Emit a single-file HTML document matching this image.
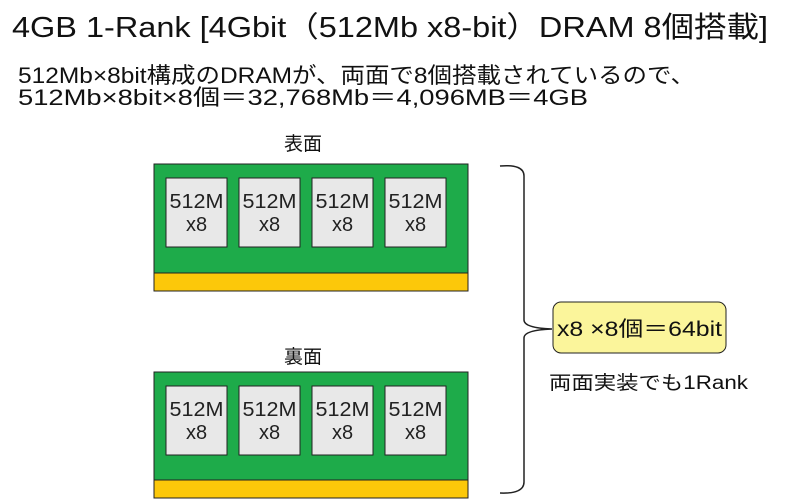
<!DOCTYPE html>
<html><head><meta charset="utf-8"><style>
body{margin:0;background:#fff;}
svg{display:block;font-family:"Liberation Sans","Noto Sans CJK JP",sans-serif;}
</style></head><body>
<svg width="800" height="501" viewBox="0 0 800 501">
<rect width="800" height="501" fill="#fff"/>
<text x="12" y="37" font-size="29" textLength="756" lengthAdjust="spacingAndGlyphs" fill="#111">4GB 1-Rank [4Gbit（512Mb x8-bit）DRAM 8個搭載]</text>
<text x="18" y="83" font-size="22" textLength="677" lengthAdjust="spacingAndGlyphs" fill="#111">512Mb×8bit構成のDRAMが、両面で8個搭載されているので、</text>
<text x="18" y="105" font-size="22" textLength="570" lengthAdjust="spacingAndGlyphs" fill="#111">512Mb×8bit×8個＝32,768Mb＝4,096MB＝4GB</text>
<text x="284" y="150" font-size="19" fill="#111">表面</text>
<text x="284" y="363" font-size="19" fill="#111">裏面</text>
<g stroke="#222" stroke-width="1">
<rect x="154" y="164" width="314" height="109" fill="#1eab4a"/>
<rect x="154" y="273" width="314" height="18" fill="#fcc80a"/>
<rect x="154" y="372" width="314" height="108" fill="#1eab4a"/>
<rect x="154" y="480" width="314" height="18" fill="#fcc80a"/>
<g fill="#e8e8e8">
<rect x="166" y="178" width="61" height="69"/><rect x="239" y="178" width="61" height="69"/>
<rect x="312" y="178" width="61" height="69"/><rect x="385" y="178" width="61" height="69"/>
<rect x="166" y="386" width="61" height="69"/><rect x="239" y="386" width="61" height="69"/>
<rect x="312" y="386" width="61" height="69"/><rect x="385" y="386" width="61" height="69"/>
</g></g>
<g font-size="20" fill="#222" text-anchor="middle">
<text x="196.5" y="208" textLength="54" lengthAdjust="spacingAndGlyphs">512M</text><text x="196.5" y="231">x8</text>
<text x="269.5" y="208" textLength="54" lengthAdjust="spacingAndGlyphs">512M</text><text x="269.5" y="231">x8</text>
<text x="342.5" y="208" textLength="54" lengthAdjust="spacingAndGlyphs">512M</text><text x="342.5" y="231">x8</text>
<text x="415.5" y="208" textLength="54" lengthAdjust="spacingAndGlyphs">512M</text><text x="415.5" y="231">x8</text>
<text x="196.5" y="416" textLength="54" lengthAdjust="spacingAndGlyphs">512M</text><text x="196.5" y="439">x8</text>
<text x="269.5" y="416" textLength="54" lengthAdjust="spacingAndGlyphs">512M</text><text x="269.5" y="439">x8</text>
<text x="342.5" y="416" textLength="54" lengthAdjust="spacingAndGlyphs">512M</text><text x="342.5" y="439">x8</text>
<text x="415.5" y="416" textLength="54" lengthAdjust="spacingAndGlyphs">512M</text><text x="415.5" y="439">x8</text>
</g>
<path d="M500 166 Q524 164 524 176 L524 320 Q524 328 552 329 Q524 330 524 338 L524 482 Q524 494 500 493" fill="none" stroke="#222" stroke-width="1.5"/>
<rect x="553" y="302" width="173" height="51" rx="8" fill="#fbf59b" stroke="#222" stroke-width="1"/>
<text x="557" y="336" font-size="21" fill="#111" textLength="165" lengthAdjust="spacingAndGlyphs">x8 ×8個＝64bit</text>
<text x="549" y="389" font-size="19" fill="#111" textLength="199" lengthAdjust="spacingAndGlyphs">両面実装でも1Rank</text>
</svg>
</body></html>
